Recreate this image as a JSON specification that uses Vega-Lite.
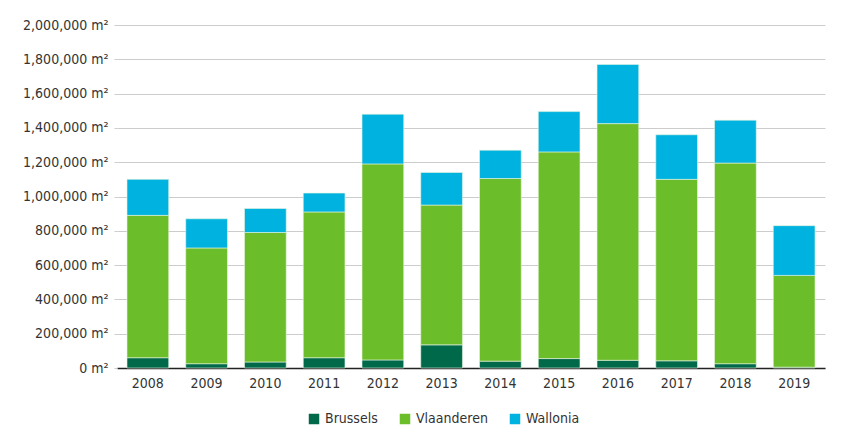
{
  "$schema": "https://vega.github.io/schema/vega-lite/v6.json",
  "autosize": {"type": "none"},
  "padding": {"left": 117, "top": 25, "right": 25, "bottom": 77},
  "width": 708,
  "height": 343,
  "background": "white",
  "data": {
    "values": [
      {"year": "2008", "region": "Brussels", "area": 60000},
      {"year": "2008", "region": "Vlaanderen", "area": 830000},
      {"year": "2008", "region": "Wallonia", "area": 210000},
      {"year": "2009", "region": "Brussels", "area": 25000},
      {"year": "2009", "region": "Vlaanderen", "area": 675000},
      {"year": "2009", "region": "Wallonia", "area": 170000},
      {"year": "2010", "region": "Brussels", "area": 35000},
      {"year": "2010", "region": "Vlaanderen", "area": 755000},
      {"year": "2010", "region": "Wallonia", "area": 140000},
      {"year": "2011", "region": "Brussels", "area": 60000},
      {"year": "2011", "region": "Vlaanderen", "area": 850000},
      {"year": "2011", "region": "Wallonia", "area": 110000},
      {"year": "2012", "region": "Brussels", "area": 47000},
      {"year": "2012", "region": "Vlaanderen", "area": 1143000},
      {"year": "2012", "region": "Wallonia", "area": 290000},
      {"year": "2013", "region": "Brussels", "area": 135000},
      {"year": "2013", "region": "Vlaanderen", "area": 815000},
      {"year": "2013", "region": "Wallonia", "area": 190000},
      {"year": "2014", "region": "Brussels", "area": 40000},
      {"year": "2014", "region": "Vlaanderen", "area": 1065000},
      {"year": "2014", "region": "Wallonia", "area": 165000},
      {"year": "2015", "region": "Brussels", "area": 55000},
      {"year": "2015", "region": "Vlaanderen", "area": 1205000},
      {"year": "2015", "region": "Wallonia", "area": 235000},
      {"year": "2016", "region": "Brussels", "area": 45000},
      {"year": "2016", "region": "Vlaanderen", "area": 1380000},
      {"year": "2016", "region": "Wallonia", "area": 345000},
      {"year": "2017", "region": "Brussels", "area": 42000},
      {"year": "2017", "region": "Vlaanderen", "area": 1058000},
      {"year": "2017", "region": "Wallonia", "area": 260000},
      {"year": "2018", "region": "Brussels", "area": 25000},
      {"year": "2018", "region": "Vlaanderen", "area": 1170000},
      {"year": "2018", "region": "Wallonia", "area": 250000},
      {"year": "2019", "region": "Brussels", "area": 5000},
      {"year": "2019", "region": "Vlaanderen", "area": 535000},
      {"year": "2019", "region": "Wallonia", "area": 290000}
    ]
  },
  "config": {
    "font": "DejaVu Sans Condensed, Roboto, sans-serif",
    "view": {"stroke": null},
    "axis": {"labelFont": "DejaVu Sans Condensed, Roboto, sans-serif", "labelColor": "#333333", "labelFontSize": 14}
  },
  "mark": {"type": "bar", "stroke": "#e8f5e0", "strokeWidth": 0.6},
  "encoding": {
    "x": {
      "field": "year",
      "type": "nominal",
      "scale": {"paddingInner": 0.29, "paddingOuter": 0.17},
      "axis": {
        "title": null,
        "labelAngle": 0,
        "domainColor": "#222222",
        "domainWidth": 1.5,
        "ticks": false,
        "labelPadding": 8
      }
    },
    "y": {
      "field": "area",
      "type": "quantitative",
      "aggregate": "sum",
      "stack": "zero",
      "scale": {"domain": [0, 2000000]},
      "axis": {
        "title": null,
        "values": [0, 200000, 400000, 600000, 800000, 1000000, 1200000, 1400000, 1600000, 1800000, 2000000],
        "labelExpr": "format(datum.value, ',') + ' m²'",
        "domain": false,
        "gridColor": "#cccccc",
        "tickColor": "#cccccc",
        "tickSize": 3,
        "labelPadding": 6
      }
    },
    "color": {
      "field": "region",
      "type": "nominal",
      "scale": {
        "domain": ["Brussels", "Vlaanderen", "Wallonia"],
        "range": ["#00694a", "#6cbd2a", "#00b2df"]
      },
      "legend": {
        "title": null,
        "orient": "none",
        "legendX": 190,
        "legendY": 387,
        "direction": "horizontal",
        "symbolType": "square",
        "symbolSize": 110,
        "symbolStrokeWidth": 0,
        "labelFontSize": 14,
        "labelColor": "#333333",
        "labelFont": "DejaVu Sans Condensed, Roboto, sans-serif",
        "columnPadding": 20
      }
    },
    "order": {"field": "region", "sort": "ascending"}
  }
}
